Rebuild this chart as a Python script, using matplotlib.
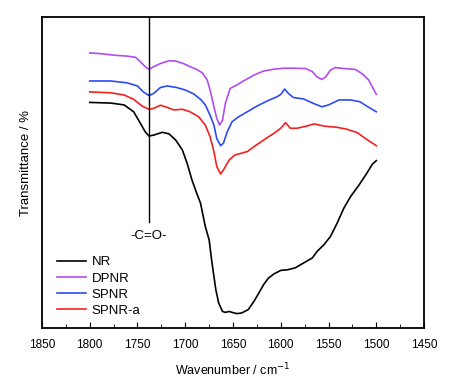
import matplotlib
matplotlib.use("Agg")
import matplotlib.pyplot as plt

plt.rcParams['font.family'] = ['Liberation Sans', 'DejaVu Sans']

# wavenumber (cm-1) / transmittance (arbitrary %)
nr_x = [1800, 1778, 1764, 1754, 1747, 1742, 1738, 1733, 1724, 1717, 1710, 1703, 1698, 1693,
        1688, 1684, 1679, 1675, 1672, 1668, 1665, 1661, 1658, 1654, 1651, 1646, 1641, 1634,
        1628, 1623, 1618, 1613, 1607, 1600, 1593, 1585, 1576, 1567, 1562, 1555, 1548, 1541,
        1534, 1527, 1518, 1510, 1504, 1500]
nr_y = [72.5, 72.3, 71.7, 69.5, 65.8, 63.1, 61.7, 62.0, 62.9, 62.4, 60.4, 57.2, 52.9, 47.6,
        43.3, 40.1, 32.6, 28.3, 20.9, 12.3, 8.0, 5.3, 5.0, 5.3, 5.0, 4.6, 4.8, 5.9,
        8.6, 11.2, 13.9, 16.0, 17.4, 18.5, 18.7, 19.3, 20.9, 22.5, 24.6, 26.7, 29.4, 33.7,
        38.5, 42.2, 46.0, 49.7, 52.7, 53.8]

dpnr_x = [1800, 1789, 1775, 1761, 1752, 1747, 1742, 1738, 1733, 1726, 1717, 1710, 1702, 1695,
          1688, 1682, 1677, 1674, 1670, 1667, 1664, 1661, 1658, 1653, 1646, 1639, 1628, 1618,
          1607, 1597, 1587, 1574, 1567, 1562, 1557, 1553, 1548, 1543, 1534, 1522, 1515, 1508, 1500]
dpnr_y = [88.4, 88.2, 87.7, 87.4, 87.0, 85.6, 84.0, 83.1, 84.0, 85.0, 85.9, 85.8, 85.0, 84.0,
          83.1, 82.0, 79.7, 76.5, 71.1, 67.4, 65.2, 66.8, 72.2, 77.0, 78.1, 79.4, 81.3, 82.6,
          83.2, 83.5, 83.5, 83.4, 82.4, 80.7, 79.9, 80.7, 82.9, 83.7, 83.4, 83.1, 81.8, 79.7, 75.1]

spnr_x = [1800, 1778, 1761, 1750, 1744, 1738, 1733, 1726, 1719, 1709, 1700, 1691, 1684, 1679,
          1674, 1670, 1667, 1663, 1660, 1656, 1651, 1644, 1635, 1625, 1614, 1604, 1600, 1596,
          1592, 1587, 1576, 1566, 1557, 1550, 1539, 1527, 1517, 1510, 1500]
spnr_y = [79.4, 79.4, 78.8, 77.8, 75.9, 74.7, 75.4, 77.3, 77.8, 77.3, 76.5, 75.2, 73.5, 71.7,
          68.4, 65.2, 60.9, 58.6, 59.4, 63.1, 66.3, 67.9, 69.5, 71.3, 73.0, 74.3, 75.1, 76.8,
          75.4, 74.1, 73.6, 72.2, 71.1, 71.7, 73.3, 73.3, 72.7, 71.3, 69.5]

spnra_x = [1800, 1778, 1764, 1754, 1745, 1738, 1733, 1726, 1719, 1712, 1703, 1695, 1686, 1679,
           1674, 1670, 1667, 1663, 1660, 1654, 1648, 1635, 1628, 1618, 1607, 1600, 1595, 1590,
           1583, 1573, 1565, 1555, 1541, 1531, 1520, 1510, 1500]
spnra_y = [75.9, 75.6, 74.9, 73.5, 71.3, 70.3, 70.6, 71.6, 70.9, 70.1, 70.3, 69.5, 67.9, 65.2,
           61.5, 56.7, 51.9, 49.5, 50.8, 54.0, 55.6, 56.7, 58.3, 60.4, 62.6, 64.2, 66.0, 64.2,
           64.2, 64.9, 65.6, 64.9, 64.5, 63.9, 62.8, 60.6, 58.6]

co_band = 1738

fig = plt.figure(figsize=(4.56, 3.84), dpi=100)
ax = fig.add_axes([0.092, 0.146, 0.838, 0.81])

ax.plot(nr_x, nr_y, color='black', lw=1.2, label='NR')
ax.plot(dpnr_x, dpnr_y, color='#b14cf0', lw=1.2, label='DPNR')
ax.plot(spnr_x, spnr_y, color='#2b4cf5', lw=1.2, label='SPNR')
ax.plot(spnra_x, spnra_y, color='#f52020', lw=1.2, label='SPNR-a')

ax.plot([co_band, co_band], [34.2, 100], color='black', lw=1)
ax.text(co_band, 29.6, '-C=O-', ha='center', va='center', fontsize=9.5)

ax.set_xlim(1850, 1450)
ax.set_ylim(0, 100)
ax.set_xticks(range(1850, 1449, -50))
ax.set_xticks(range(1825, 1449, -50), minor=True)
ax.set_yticks([])
ax.tick_params(axis='x', which='both', direction='in', top=False, labelsize=8.5, pad=8)
ax.tick_params(axis='x', which='major', length=4)
ax.tick_params(axis='x', which='minor', length=3)
for s in ax.spines.values():
    s.set_linewidth(1.3)

ax.set_xlabel('Wavenumber / cm$^{-1}$', fontsize=9, labelpad=8)
ax.set_ylabel('Transmittance / %', fontsize=9.5)
ax.yaxis.set_label_coords(-0.026, 0.53)

ax.legend(loc='lower left', bbox_to_anchor=(0.039, 0.035), frameon=False, fontsize=9.5,
          handlelength=2.2, handletextpad=0.45, labelspacing=0.3, borderaxespad=0, borderpad=0)

fig.savefig('out.png', dpi=100)
